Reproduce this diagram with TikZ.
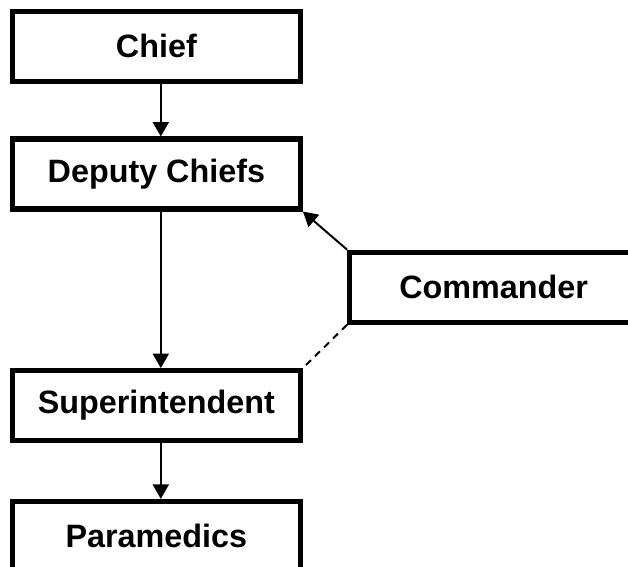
\documentclass[tikz,border=0pt]{standalone}
\usepackage{fontspec}
\setmainfont{Liberation Sans}
\usetikzlibrary{arrows.meta,positioning}
\tikzset{
    % Chart styles
    rankbox/.style={
        rectangle, draw=black, line width=3.6pt, fill=white,
        minimum width=7.2cm, minimum height=1.75cm,
        font=\bfseries\fontsize{23}{27}\selectfont
    },
    reportline/.style={
        draw=black, line width=1.4pt,
        -{Triangle[length=0.36cm,width=0.4cm]}
    },
    liaisonline/.style={
        draw=black, line width=1.4pt, dash pattern=on 5pt off 4pt
    }
}
\begin{document}
\begin{tikzpicture}

% Canvas
\useasboundingbox (0,0) rectangle (15.7,-14.175);

% Ranks
\node[rankbox] (chief) at (3.91,-1.16) {Chief};
\node[rankbox] (deputy) at (3.91,-4.35) {Deputy Chiefs};
\node[rankbox] (super) at (3.91,-10.14) {Superintendent};
\node[rankbox] (medics) at (3.91,-13.41) {Paramedics};

% Side box
\node[rankbox] (commander) at (12.34,-7.18) {Commander};

% Reporting lines
\draw[reportline] ([xshift=0.11cm]chief.south) -- ([xshift=0.11cm]deputy.north);
\draw[reportline] ([xshift=0.11cm]deputy.south) -- ([xshift=0.11cm]super.north);
\draw[reportline] ([xshift=0.11cm]super.south) -- ([xshift=0.11cm]medics.north);
\draw[reportline] (commander.north west) -- (deputy.south east);

% Dashed liaison
\draw[liaisonline] (commander.south west) -- (super.north east);

\end{tikzpicture}
\end{document}
